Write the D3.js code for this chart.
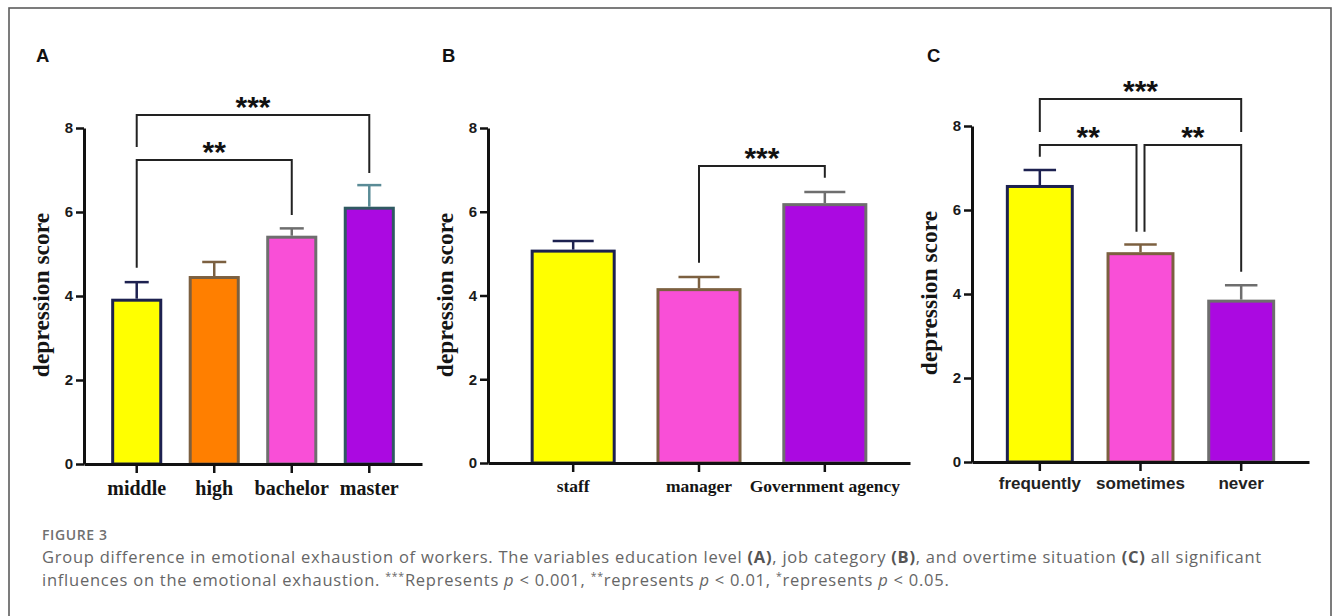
<!DOCTYPE html>
<html>
<head>
<meta charset="utf-8">
<script src="https://cdn.jsdelivr.net/npm/d3@7/dist/d3.min.js"></script>
<style>
  html, body { margin: 0; padding: 0; background: #fff; }
  svg { display: block; }
</style>
</head>
<body>
<svg id="chart" width="1336" height="616"></svg>
<script>
// ---------------- DATA ----------------
const yTicks = [0, 2, 4, 6, 8];

const catsA = ["middle", "high", "bachelor", "master"];
const meanA = [3.90, 4.44, 5.40, 6.09];
const errA  = [0.43, 0.37, 0.21, 0.55];
const sigA  = [
  { from: 0, to: 2, label: "**" },
  { from: 0, to: 3, label: "***" }
];

const catsB = ["staff", "manager", "Government agency"];
const meanB = [5.06, 4.14, 6.17];
const errB  = [0.24, 0.30, 0.30];
const sigB  = [
  { from: 1, to: 2, label: "***" }
];

const catsC = ["frequently", "sometimes", "never"];
const meanC = [6.56, 4.96, 3.83];
const errC  = [0.39, 0.22, 0.38];
const sigC  = [
  { from: 0, to: 2, label: "***" },
  { from: 0, to: 1, label: "**" },
  { from: 1, to: 2, label: "**" }
];

const yLabel = "depression score";
const panelLetters = ["A", "B", "C"];
const captionTitle = "FIGURE 3";

// ---------------- STYLES / LAYOUT ----------------
const YELLOW = "#ffff00", ORANGE = "#ff7f00", PINK = "#f94fd7", PURPLE = "#ab09e1";
const NAVY = "#1d2150", BROWN = "#7c6040", GRAY = "#6e6e6e", TEAL = "#2f5962", TEAL_L = "#5a8b96";

const panels = [
  {
    letter: panelLetters[0], letterX: 36, letterY: 62,
    cats: catsA, means: meanA, errs: errA, sig: sigA,
    x0: 84, x1: 422, yZero: 464, yTop: 128, padIn: 0.38, padOut: 0.37,
    fills: [YELLOW, ORANGE, PINK, PURPLE],
    strokes: [NAVY, BROWN, GRAY, TEAL],
    errColors: [NAVY, BROWN, GRAY, TEAL_L],
    xFont: "'Liberation Serif', 'Times New Roman', serif", xSize: 20, xLabelY: 495, xColor: "#151515",
    yLabelX: 49, yLabelMid: 295,
    brackets: [
      { level: 7.24, leftEnd: 4.67, rightEnd: 5.93, inL: 0, inR: 0 },
      { level: 8.31, leftEnd: 7.55, rightEnd: 6.93, inL: 0, inR: 0 }
    ]
  },
  {
    letter: panelLetters[1], letterX: 442, letterY: 62,
    cats: catsB, means: meanB, errs: errB, sig: sigB,
    x0: 488, x1: 910, yZero: 463, yTop: 128, padIn: 0.348, padOut: 0.351,
    fills: [YELLOW, PINK, PURPLE],
    strokes: [NAVY, BROWN, GRAY],
    errColors: [NAVY, BROWN, GRAY],
    xFont: "'Liberation Serif', 'Times New Roman', serif", xSize: 17.5, xLabelY: 492, xColor: "#151515",
    yLabelX: 453, yLabelMid: 295,
    brackets: [
      { level: 7.09, leftEnd: 4.78, rightEnd: 6.81, inL: 0, inR: 0 }
    ]
  },
  {
    letter: panelLetters[2], letterX: 927, letterY: 62,
    cats: catsC, means: meanC, errs: errC, sig: sigC,
    x0: 972, x1: 1309, yZero: 462, yTop: 126, padIn: 0.355, padOut: 0.351,
    fills: [YELLOW, PINK, PURPLE],
    strokes: [NAVY, BROWN, GRAY],
    errColors: [NAVY, BROWN, GRAY],
    xFont: "'Liberation Sans', Arial, sans-serif", xSize: 17, xLabelY: 489, xColor: "#222",
    yLabelX: 937, yLabelMid: 293,
    brackets: [
      { level: 8.64, leftEnd: 7.86, rightEnd: 7.86, inL: 0, inR: 0 },
      { level: 7.55, leftEnd: 7.27, rightEnd: 5.48, inL: 0, inR: -4 },
      { level: 7.55, leftEnd: 5.48, rightEnd: 4.53, inL: 4, inR: 0 }
    ]
  }
];

// ---------------- DRAW ----------------
const svg = d3.select("#chart");
svg.append("rect").attr("x", 0).attr("y", 0).attr("width", 1336).attr("height", 616).attr("fill", "#fff");
svg.append("rect")
  .attr("x", 9).attr("y", 8).attr("width", 1322).attr("height", 660)
  .attr("fill", "none").attr("stroke", "#5c5c5c").attr("stroke-width", 1.6);

const AXIS = "#111";

panels.forEach(p => {
  const g = svg.append("g");
  const x = d3.scaleBand().domain(p.cats).range([p.x0, p.x1]).paddingInner(p.padIn).paddingOuter(p.padOut);
  const y = d3.scaleLinear().domain([0, 8]).range([p.yZero, p.yTop]);
  const bw = x.bandwidth();
  const cx = i => x(p.cats[i]) + bw / 2;

  // panel letter
  g.append("text").attr("x", p.letterX).attr("y", p.letterY)
    .attr("font-family", "'Liberation Sans', Arial, sans-serif").attr("font-weight", "bold")
    .attr("font-size", 18.5).attr("fill", "#111").text(p.letter);

  // bars
  g.selectAll("rect.bar").data(p.means).enter().append("rect")
    .attr("class", "bar")
    .attr("x", (d, i) => x(p.cats[i]))
    .attr("y", d => y(d))
    .attr("width", bw)
    .attr("height", d => y(0) - y(d))
    .attr("fill", (d, i) => p.fills[i])
    .attr("stroke", (d, i) => p.strokes[i])
    .attr("stroke-width", 3);

  // error bars
  p.means.forEach((m, i) => {
    const top = y(m + p.errs[i]);
    g.append("line").attr("x1", cx(i)).attr("x2", cx(i)).attr("y1", y(m) - 1.5).attr("y2", top)
      .attr("stroke", p.errColors[i]).attr("stroke-width", 2.5);
    g.append("line").attr("x1", cx(i) - bw / 4).attr("x2", cx(i) + bw / 4).attr("y1", top).attr("y2", top)
      .attr("stroke", p.errColors[i]).attr("stroke-width", 2.5);
  });

  // y axis
  const yAxis = d3.axisLeft(y).tickValues(yTicks).tickSize(8).tickSizeOuter(0).tickPadding(3).tickFormat(d3.format("d"));
  const ga = g.append("g").attr("transform", `translate(${p.x0},0)`).call(yAxis);
  ga.select(".domain").attr("stroke", AXIS).attr("stroke-width", 3);
  ga.selectAll(".tick line").attr("stroke", AXIS).attr("stroke-width", 2.5);
  ga.selectAll(".tick text").attr("font-family", "'Liberation Sans', Arial, sans-serif")
    .attr("font-weight", "bold").attr("font-size", 15).attr("fill", "#1a1a1a");

  // x axis
  const xAxis = d3.axisBottom(x).tickSize(9).tickSizeOuter(0).tickFormat("");
  const gx = g.append("g").attr("transform", `translate(0,${p.yZero})`).call(xAxis);
  gx.select(".domain").attr("stroke", AXIS).attr("stroke-width", 3);
  gx.selectAll(".tick line").attr("stroke", AXIS).attr("stroke-width", 2.5);

  // x category labels
  g.selectAll("text.xl").data(p.cats).enter().append("text")
    .attr("class", "xl")
    .attr("x", d => x(d) + bw / 2).attr("y", p.xLabelY)
    .attr("text-anchor", "middle")
    .attr("font-family", p.xFont).attr("font-weight", "bold")
    .attr("font-size", p.xSize).attr("fill", p.xColor)
    .text(d => d);

  // y label
  g.append("text")
    .attr("transform", `translate(${p.yLabelX},${p.yLabelMid}) rotate(-90)`)
    .attr("text-anchor", "middle")
    .attr("font-family", "'Liberation Serif', 'Times New Roman', serif").attr("font-weight", "bold")
    .attr("font-size", 23.5).attr("fill", "#151515")
    .text(yLabel);

  // significance brackets
  p.sig.forEach((s, k) => {
    const b = p.brackets[k];
    const xl = cx(s.from) + b.inL, xr = cx(s.to) + b.inR;
    const path = d3.path();
    path.moveTo(xl, y(b.leftEnd));
    path.lineTo(xl, y(b.level));
    path.lineTo(xr, y(b.level));
    path.lineTo(xr, y(b.rightEnd));
    g.append("path").attr("d", path.toString()).attr("fill", "none")
      .attr("stroke", "#222").attr("stroke-width", 2);
    g.append("text").attr("x", (xl + xr) / 2).attr("y", y(b.level) + 2)
      .attr("text-anchor", "middle")
      .attr("font-family", "'Liberation Sans', Arial, sans-serif").attr("font-weight", "bold")
      .attr("font-size", 30).attr("fill", "#111").text(s.label);
  });
});

// ---------------- CAPTION ----------------
const capFont = "'Open Sans', 'Noto Sans', sans-serif";
const capColor = "#666";
svg.append("text").attr("x", 42).attr("y", 540)
  .attr("font-family", capFont).attr("font-weight", 600).attr("font-size", 14)
  .attr("letter-spacing", 0.6)
  .attr("fill", "#707070").text(captionTitle);

const line1 = [
  { t: "Group difference in emotional exhaustion of workers. The variables education level " },
  { t: "(A)", b: true }, { t: ", job category " }, { t: "(B)", b: true },
  { t: ", and overtime situation " }, { t: "(C)", b: true }, { t: " all significant" }
];
const line2 = [
  { t: "influences on the emotional exhaustion. " }, { t: "***", sup: true }, { t: "Represents " },
  { t: "p", i: true }, { t: " < 0.001, " }, { t: "**", sup: true }, { t: "represents " },
  { t: "p", i: true }, { t: " < 0.01, " }, { t: "*", sup: true }, { t: "represents " },
  { t: "p", i: true }, { t: " < 0.05." }
];
const capSize = 16.5;
function captionLine(parts, yPos, spacing) {
  const t = svg.append("text").attr("x", 42).attr("y", yPos)
    .attr("font-family", capFont).attr("font-size", capSize).attr("fill", capColor)
    .attr("letter-spacing", spacing)
    .attr("xml:space", "preserve");
  let shifted = false;
  parts.forEach(p => {
    const ts = t.append("tspan").text(p.t);
    if (p.b) ts.attr("font-weight", "bold").attr("fill", "#555");
    if (p.i) ts.attr("font-style", "italic");
    if (p.sup) { ts.attr("font-size", 10.5).attr("dy", -6); shifted = true; }
    else if (shifted) { ts.attr("dy", 6); shifted = false; }
  });
  return t;
}
// fit line 1 to the reference width through letter spacing
const probe = captionLine(line1, 563, 0);
const len = probe.node().getComputedTextLength();
const nChars = line1.map(d => d.t).join("").length;
const spacing = Math.max(0, (1220 - len) / nChars);
probe.attr("letter-spacing", spacing);
captionLine(line2, 586, spacing);
</script>
</body>
</html>
